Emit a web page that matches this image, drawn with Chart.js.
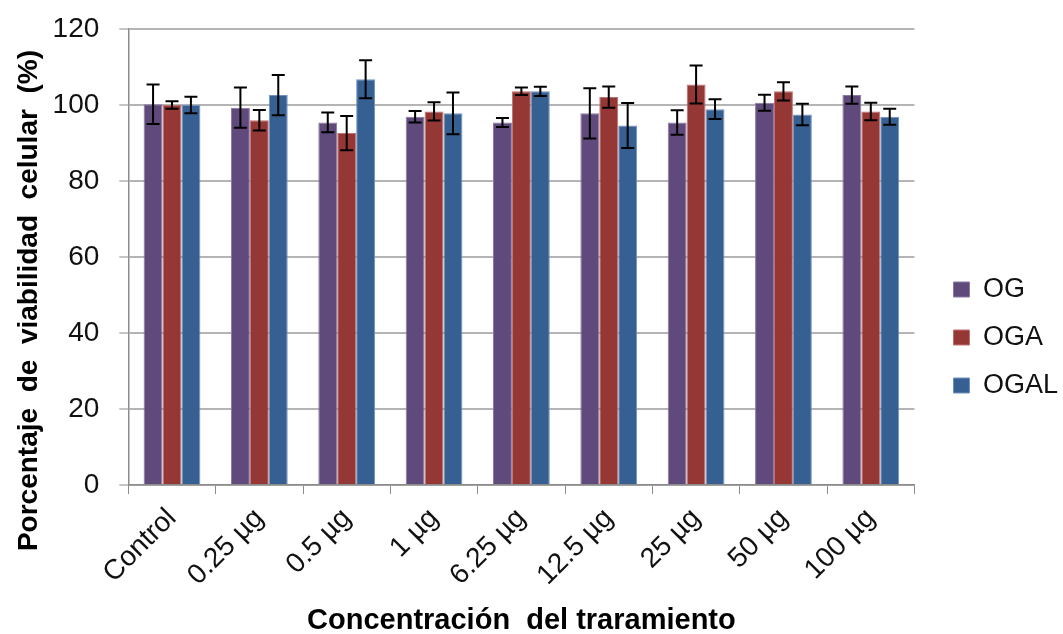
<!DOCTYPE html>
<html>
<head>
<meta charset="utf-8">
<script src="https://cdn.jsdelivr.net/npm/chart.js@4.4.1/dist/chart.umd.min.js"></script>
<style>
  html, body { margin: 0; padding: 0; background: #fff; }
  #wrap { width: 1063px; height: 634px; }
</style>
</head>
<body>
<div id="wrap"><canvas id="chart" width="1063" height="634"></canvas></div>
<script>
// --- Data ---
const categories = ["Control", "0.25 µg", "0.5 µg", "1 µg", "6.25 µg", "12.5 µg", "25 µg", "50 µg", "100 µg"];
const seriesNames = ["OG", "OGA", "OGAL"];

const ogValues   = [100.2, 99.3, 95.4, 96.9, 95.4, 97.8, 95.4, 100.6, 102.6];
const ogaValues  = [100.0, 96.0, 92.6, 98.3, 103.6, 102.1, 105.4, 103.6, 98.3];
const ogalValues = [100.0, 102.6, 106.8, 97.8, 103.6, 94.6, 98.9, 97.5, 96.9];

const ogErrors   = [5.2, 5.3, 2.6, 1.5, 1.2, 6.6, 3.2, 2.1, 2.3];
const ogaErrors  = [1.0, 2.7, 4.5, 2.4, 1.0, 2.8, 5.0, 2.4, 2.3];
const ogalErrors = [2.2, 5.3, 5.0, 5.5, 1.2, 5.9, 2.6, 2.8, 2.1];

const yTicks = [0, 20, 40, 60, 80, 100, 120];

// --- Colors ---
const fillColors = ["#5f4a7b", "#953735", "#376092"];
const edgeColors = ["#8a78a3", "#c07270", "#7192c0"];

// Error bars plugin: draws whiskers using the chart's own scales
const errorBars = {
    id: "errorBars",
    afterDatasetsDraw(chart) {
        const ctx = chart.ctx;
        const yScale = chart.scales.y;
        ctx.save();
        ctx.strokeStyle = "#000";
        ctx.lineWidth = 2;
        chart.data.datasets.forEach((ds, i) => {
            const meta = chart.getDatasetMeta(i);
            meta.data.forEach((bar, j) => {
                const v = ds.data[j];
                const e = ds.errors[j];
                const yTop = yScale.getPixelForValue(v + e);
                const yBot = yScale.getPixelForValue(v - e);
                const half = 6.5;
                ctx.beginPath();
                ctx.moveTo(bar.x, yTop);
                ctx.lineTo(bar.x, yBot);
                ctx.moveTo(bar.x - half, yTop);
                ctx.lineTo(bar.x + half, yTop);
                ctx.moveTo(bar.x - half, yBot);
                ctx.lineTo(bar.x + half, yBot);
                ctx.stroke();
            });
        });
        ctx.restore();
    }
};

const fontFamily = "'Liberation Sans', Arial, sans-serif";

const chartEl = document.getElementById("chart").getContext("2d");

const barChart = new Chart(chartEl, {
    type: "bar",
    data: {
        labels: categories,
        datasets: [
            { label: seriesNames[0], data: ogValues, errors: ogErrors, yAxisID: "y", backgroundColor: fillColors[0], borderColor: edgeColors[0], borderWidth: 1 },
            { label: seriesNames[1], data: ogaValues, errors: ogaErrors, yAxisID: "y", backgroundColor: fillColors[1], borderColor: edgeColors[1], borderWidth: 1 },
            { label: seriesNames[2], data: ogalValues, errors: ogalErrors, yAxisID: "y", backgroundColor: fillColors[2], borderColor: edgeColors[2], borderWidth: 1 }
        ]
    },
    options: {
        responsive: false,
        animation: false,
        layout: { padding: { top: 29, right: -5, bottom: 0, left: 0 } },
        categoryPercentage: 0.65,
        barPercentage: 1.0,
        plugins: {
            tooltip: { enabled: false },
            legend: {
                position: "right",
                // blank title only nudges the entries down a little
                title: { display: true, text: " ", padding: 0, font: { size: 10 } },
                labels: {
                    boxWidth: 16,
                    boxHeight: 15,
                    padding: 21,
                    color: "#111",
                    font: { family: fontFamily, size: 27 }
                }
            }
        },
        scales: {
            x: {
                offset: true,
                grid: { display: true, drawOnChartArea: false, offset: true, tickLength: 9, color: "#8c8c8c", lineWidth: 1 },
                border: { display: true, color: "#8c8c8c", width: 1.5 },
                ticks: {
                    minRotation: 45,
                    maxRotation: 45,
                    padding: 8,
                    color: "#111",
                    font: { family: fontFamily, size: 28 }
                },
                title: {
                    display: true,
                    text: "Concentración  del traramiento",
                    color: "#000",
                    padding: { top: 3, bottom: -4 },
                    font: { family: fontFamily, size: 29, weight: "bold" }
                }
            },
            y: {
                min: 0,
                max: 120,
                afterBuildTicks: (axis) => { axis.ticks = yTicks.map(v => ({ value: v })); },
                // labels sit far from the axis; don't let that padding grow the top margin
                afterFit: (axis) => { axis.paddingTop = 0; axis.paddingBottom = 0; },
                grid: { color: "#b4b4b4", lineWidth: 2, tickLength: 9, tickColor: "#8c8c8c", tickWidth: 1 },
                border: { display: true, color: "#8c8c8c", width: 1.5 },
                ticks: {
                    padding: 20,
                    color: "#111",
                    font: { family: fontFamily, size: 28 }
                },
                title: {
                    display: true,
                    // trailing em spaces push the visible text down, as in the original
                    text: "Porcentaje  de  viabilidad  celular  (%)\u2003\u2003    ",
                    color: "#000",
                    padding: { top: 12, bottom: -13 },
                    font: { family: fontFamily, size: 28, weight: "bold" }
                }
            },
            // empty spacer between plot and legend
            gap: {
                type: "linear",
                position: "right",
                display: true,
                grid: { display: false },
                border: { display: false },
                ticks: { display: false },
                afterFit: (axis) => { axis.width = 18; }
            }
        }
    },
    plugins: [errorBars]
});
</script>
</body>
</html>
